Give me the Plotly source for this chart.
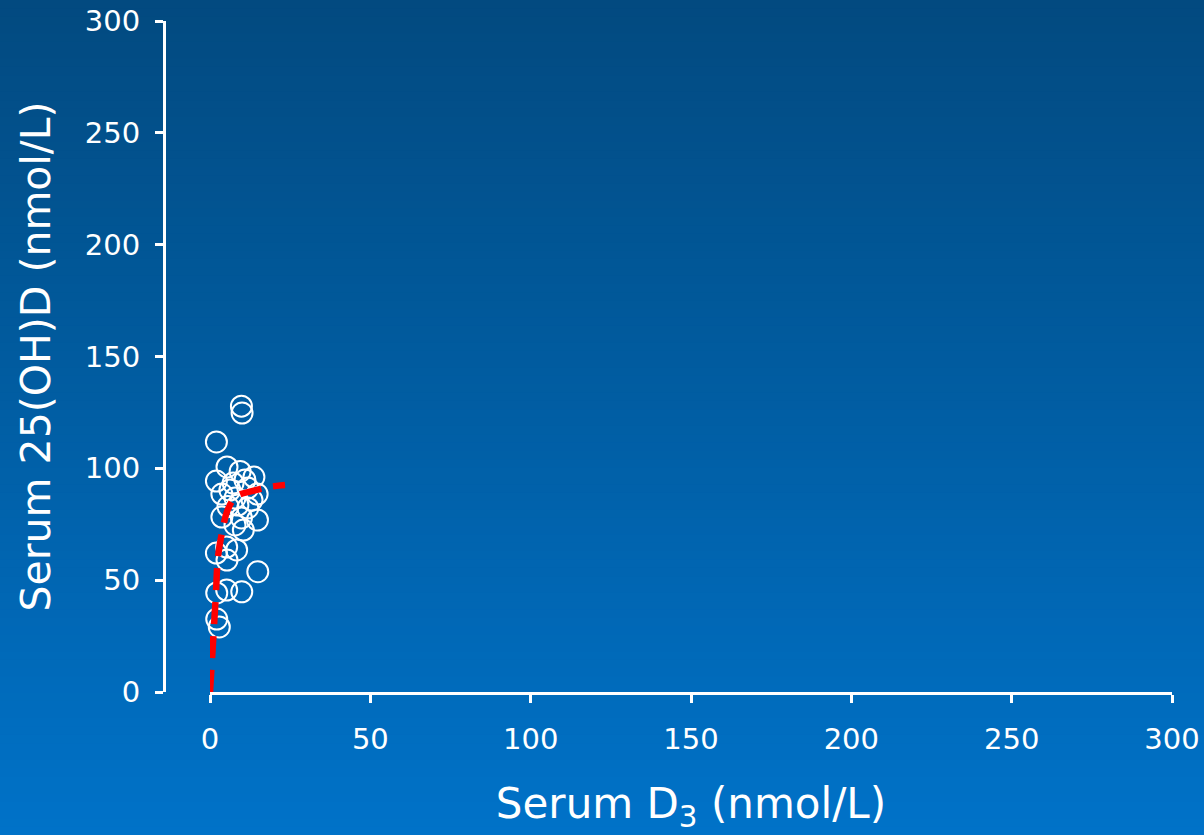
import plotly.graph_objects as go

# Scatter data (Serum D3 vs Serum 25(OH)D), nmol/L
d3_values = [9.8, 10.0, 2.0, 5.3, 9.4, 2.0, 13.7, 7.2, 11.8, 14.7, 3.7, 7.8, 5.6, 11.8,
             3.7, 9.8, 14.8, 7.8, 10.4, 2.0, 5.2, 8.3, 5.3, 14.9, 2.1, 5.2, 9.9, 2.1,
             2.9, 10.9, 6.2, 8.7, 13.1]
ohd_values = [127.8, 124.7, 111.8, 100.6, 98.6, 94.3, 96.1, 93.4, 91.2, 88.5, 88.5, 86.7,
              82.9, 82.3, 78.2, 77.8, 76.9, 74.7, 72.4, 62.1, 64.8, 63.5, 59.0, 53.8,
              44.3, 45.6, 44.8, 32.6, 29.1, 94.8, 90.3, 83.6, 85.8]

# Fitted curve
fit_x = [0, 0.8, 1.8, 2.5, 3.7, 5.6, 8.3, 13.4, 17.6, 23.4]
fit_y = [0, 18.8, 42.8, 60.5, 71.0, 81.7, 87.6, 89.9, 91.5, 92.5]

x_ticks = [0, 50, 100, 150, 200, 250, 300]
y_ticks = [0, 50, 100, 150, 200, 250, 300]

W, H = 1204, 835
FONT = "DejaVu Sans"

fig = go.Figure()

fig.add_trace(go.Scatter(
    x=d3_values, y=ohd_values, mode="markers",
    marker=dict(symbol="circle-open", size=21, color="white",
                line=dict(color="white", width=2)),
    cliponaxis=False, showlegend=False, hoverinfo="x+y"))

fig.add_trace(go.Scatter(
    x=fit_x, y=fit_y, mode="lines", line_shape="spline",
    line=dict(color="#ff0000", width=6.5, dash="22px,12px"),
    cliponaxis=False, showlegend=False, hoverinfo="skip"))

# vertical gradient background
top = (2, 74, 128)
bot = (0, 114, 200)
n = 100
shapes = []
for i in range(n):
    t = i / (n - 1)
    c = tuple(round(top[k] + (bot[k] - top[k]) * t) for k in range(3))
    shapes.append(dict(type="rect", xref="paper", yref="paper",
                       x0=0, x1=1, y1=1 - i / n, y0=1 - (i + 1) / n - 0.002,
                       fillcolor="rgb(%d,%d,%d)" % c, line=dict(width=0),
                       layer="below"))

fig.update_layout(
    width=W, height=H,
    margin=dict(l=0, r=0, t=0, b=0, pad=0),
    paper_bgcolor="rgb(1,94,164)",
    plot_bgcolor="rgba(0,0,0,0)",
    shapes=shapes,
    font=dict(family=FONT, color="white"),
    xaxis=dict(
        domain=[210 / W, 1172 / W], range=[0, 300], automargin=False,
        tickvals=x_ticks, ticktext=[str(v) for v in x_ticks],
        showgrid=False, zeroline=False,
        showline=True, linecolor="white", linewidth=3,
        ticks="outside", ticklen=8, tickwidth=3, tickcolor="white",
        ticklabelstandoff=11,
        tickfont=dict(size=29, color="white", family=FONT),
        title=dict(text="Serum D<sub>3</sub> (nmol/L)", standoff=34,
                   font=dict(size=42, color="white", family=FONT)),
    ),
    yaxis=dict(
        domain=[(H - 692) / H, (H - 21) / H], range=[0, 300], automargin=False,
        anchor="free", position=164 / W,
        tickvals=y_ticks, ticktext=[str(v) for v in y_ticks],
        showgrid=False, zeroline=False,
        showline=True, linecolor="white", linewidth=3,
        ticks="outside", ticklen=8, tickwidth=3, tickcolor="white",
        ticklabelstandoff=9,
        tickfont=dict(size=29, color="white", family=FONT),
        title=dict(text="Serum 25(OH)D (nmol/L)", standoff=20,
                   font=dict(size=41, color="white", family=FONT)),
    ),
)

fig.write_html("out.html")
